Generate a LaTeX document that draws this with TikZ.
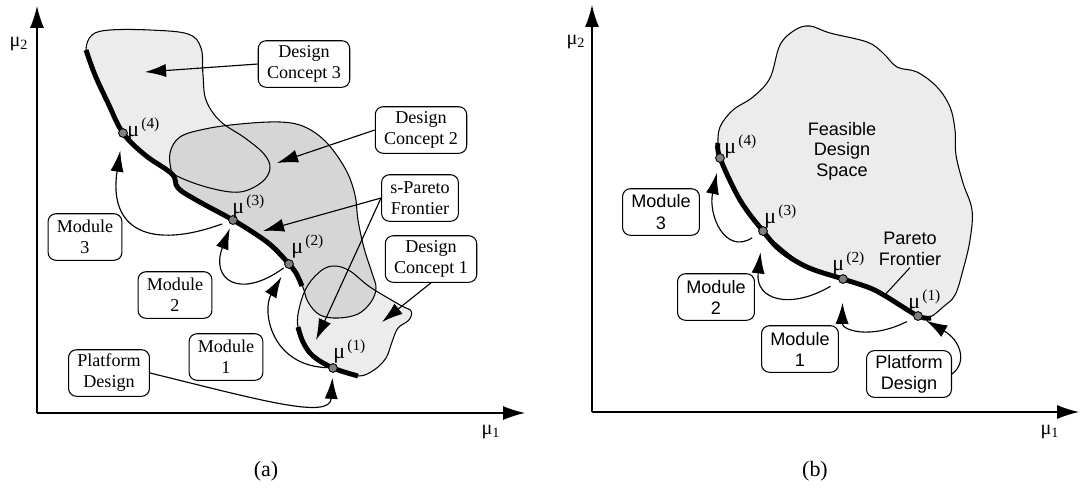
\documentclass[tikz,border=0pt]{standalone}
\usepackage{fontspec}
\setmainfont{Liberation Serif}
\setsansfont{Liberation Sans}
\usetikzlibrary{arrows.meta}
\definecolor{lightfill}{gray}{0.925}
\definecolor{darkfill}{gray}{0.84}
\newcommand{\mulabel}[1]{μ\kern1.3pt\textsuperscript{(#1)}}
\begin{document}
\begin{tikzpicture}[x=0.02cm,y=-0.02cm,
	box/.style={draw, rounded corners=4.5pt, align=center, fill=white, inner xsep=5pt, inner ysep=2.5pt, minimum height=26.5pt, line width=0.6pt, font=\fontsize{10.3}{12}\selectfont},
	sbox/.style={box, font=\sffamily\fontsize{10.3}{12}\selectfont},
	dot/.style={circle, draw, fill=black!50, minimum size=5pt, inner sep=0pt, line width=0.5pt},
	mulab/.style={anchor=base west, inner sep=0pt, font=\fontsize{12.5}{14}\selectfont},
	pareto/.style={line width=2.8pt},
	region/.style={line width=0.6pt},
	conn/.style={-{Latex[length=12pt,width=7.5pt]}, line width=0.65pt},
	axis/.style={-{Latex[length=12.5pt,width=8pt]}, line width=0.7pt}]
	\useasboundingbox (0,0) rectangle (1080,491);

	% ---- (a) ----
	\draw[axis] (37,413) -- (525,413);
	\draw[axis] (37,413) -- (37,6);
	\node[font=\fontsize{11.5}{13}\selectfont] (mua1) at (491,432) {μ\textsubscript{1}};
	\node[font=\fontsize{11.5}{13}\selectfont] (mua2) at (19,44) {μ\textsubscript{2}};

	\path[save path=\regthree] plot[smooth cycle, tension=0.6] coordinates {(86,50) (92,35) (110,30) (150,30) (188,34) (201,48) (203,75) (206,100) (220,121) (245,138) (264,154) (270,168) (262,182) (240,192) (210,188) (177,176) (150,158) (123,133) (106,98) (92,68)};
	\path[save path=\regone] plot[smooth cycle, tension=0.6] coordinates {(298,327) (300,305) (308,285) (322,270) (335,266) (350,271) (370,287) (400,305) (411,311) (409,320) (398,328) (392,342) (386,358) (374,370) (358,376) (333,368) (310,353)};
	\path[save path=\regtwo] plot[smooth cycle, tension=0.6] coordinates {(172,173) (170,153) (180,137) (205,129) (240,124) (280,122) (305,127) (327,143) (346,170) (355,195) (358,220) (364,248) (372,273) (376,288) (371,302) (358,314) (338,318) (320,315) (308,302) (302,285) (289,264) (273,247) (233,220) (198,201) (180,189)};
	\fill[lightfill, use path=\regthree];
	\fill[lightfill, use path=\regone];
	\fill[darkfill, use path=\regtwo];
	\draw[region, use path=\regthree];
	\draw[region, use path=\regone];
	\draw[region, use path=\regtwo];

	\draw[pareto] plot[smooth, tension=0.6] coordinates {(86,50) (95,75) (108,103) (123,133) (145,155) (172,174) (178,188) (198,201) (233,220) (260,237) (274,248) (289,264) (296,273) (302,286)};
	\draw[pareto] plot[smooth, tension=0.6] coordinates {(298,327) (303,342) (313,356) (333,368) (358,376)};

	\node[dot] (p1) at (333,368) {};
	\node[dot] (p2) at (289,264) {};
	\node[dot] (p3) at (233,220) {};
	\node[dot] (p4) at (123,133) {};
	\node[mulab] (p1lab) at (333,358) {\mulabel{1}};
	\node[mulab] (p2lab) at (291,253) {\mulabel{2}};
	\node[mulab] (p3lab) at (232,213) {\mulabel{3}};
	\node[mulab] (p4lab) at (127,136) {\mulabel{4}};

	\node[box] (dc3) at (304,64) {Design\\Concept 3};
	\node[box] (dc2) at (421,130) {Design\\Concept 2};
	\node[box] (spf) at (420,198) {s-Pareto\\Frontier};
	\node[box] (dc1) at (431,259) {Design\\Concept 1};
	\node[box] (mod3) at (85,237) {Module\\3};
	\node[box] (mod2) at (175,295) {Module\\2};
	\node[box] (mod1) at (226,357) {Module\\1};
	\node[box] (pfa) at (109,373) {Platform\\Design};

	\coordinate (dc3t) at (145,72);
	\coordinate (dc2t) at (277,163);
	\coordinate (spft) at (263,231);
	\coordinate (spfb) at (316,340);
	\coordinate (dc1t) at (382,322);
	\draw[conn] (dc3.west) -- (dc3t);
	\draw[conn] (dc2.west) -- (dc2t);
	\draw[conn] (spf.west) -- (spft);
	\draw[conn] (spf.west) -- (spfb);
	\draw[conn] (dc1.south) -- (dc1t);

	\draw[conn, shorten <=4pt, shorten >=7.4pt] (p3) .. controls (150,250) and (108,230) .. (p4);
	\draw[conn, shorten <=1pt, shorten >=2.3pt] (p2) .. controls (240,300) and (210,280) .. (p3);
	\draw[conn, shorten <=1pt, shorten >=5.7pt] (p1) .. controls (270,365) and (262,310) .. (p2);
	\draw[conn, shorten >=2.8pt] (pfa.east) .. controls (260,400) and (330,420) .. (p1);

	\node[font=\fontsize{12.5}{14}\selectfont] (capa) at (266,471) {(a)};

	% ---- (b) ----
	\draw[axis] (592,412) -- (1079,412);
	\draw[axis] (592,412) -- (592,5);
	\node[font=\fontsize{11.5}{13}\selectfont] (mub1) at (1050,432) {μ\textsubscript{1}};
	\node[font=\fontsize{11.5}{13}\selectfont] (mub2) at (576,42) {μ\textsubscript{2}};

	\draw[region, fill=lightfill] plot[smooth cycle, tension=0.6] coordinates {(718,145) (720,127) (733,110) (753,97) (770,78) (780,45) (795,30) (810,26) (830,33) (867,42) (883,53) (897,67) (917,72) (937,87) (950,107) (955,130) (956,155) (963,183) (972,210) (970,240) (963,270) (955,295) (943,307) (930,317) (918,316) (887,297) (843,279) (807,267) (763,231) (740,200) (720,158)};

	\draw[pareto] plot[smooth, tension=0.6] coordinates {(718,143) (720,158) (740,200) (763,231) (780,250) (807,267) (843,279) (870,288) (887,297) (918,316) (931,318)};

	\node[dot] (q1) at (918,316) {};
	\node[dot] (q2) at (843,279) {};
	\node[dot] (q3) at (763,231) {};
	\node[dot] (q4) at (720,158) {};
	\node[mulab] (q1lab) at (908,308) {\mulabel{1}};
	\node[mulab] (q2lab) at (832,270) {\mulabel{2}};
	\node[mulab] (q3lab) at (764,223) {\mulabel{3}};
	\node[mulab] (q4lab) at (724,153) {\mulabel{4}};

	\node[align=center, font=\sffamily\fontsize{10.3}{11.6}\selectfont] (fds) at (842,151) {Feasible\\Design\\Space};
	\node[align=center, inner sep=1pt, font=\sffamily\fontsize{10.3}{11.6}\selectfont] (pfb) at (910,249) {Pareto\\Frontier};
	\coordinate (pfbt) at (883,297);
	\draw[region] (pfb.south) -- (pfbt);

	\node[sbox] (nod3) at (661,212) {Module\\3};
	\node[sbox] (nod2) at (716,297) {Module\\2};
	\node[sbox] (nod1) at (800,349) {Module\\1};
	\node[sbox] (pfd) at (909,374) {Platform\\Design};

	\draw[conn, shorten <=4.5pt, shorten >=6pt] (q3) .. controls (725,255) and (708,215) .. (q4);
	\draw[conn, shorten <=5.5pt, shorten >=9.5pt] (q2) .. controls (790,310) and (755,300) .. (q3);
	\draw[conn, shorten <=4.4pt, shorten >=10.8pt] (q1) .. controls (870,340) and (842,330) .. (q2);
	\draw[conn, shorten >=2.6pt] (pfd.east) .. controls (968,362) and (960,340) .. (q1);

	\node[font=\fontsize{12.5}{14}\selectfont] (capb) at (815,471) {(b)};
\end{tikzpicture}
\end{document}
